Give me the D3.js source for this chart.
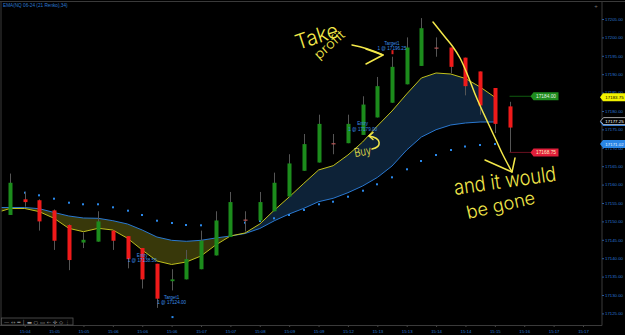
<!DOCTYPE html>
<html>
<head>
<meta charset="utf-8">
<script src="https://cdn.jsdelivr.net/npm/d3@7"></script>
<style>
html,body{margin:0;padding:0;background:#000;overflow:hidden;}
svg{display:block;}
</style>
</head>
<body>
<svg id="chart" width="625" height="335"></svg>
<script>
// ---------------- DATA ----------------
const chartTitle = "EMA(NQ 06-24 (21 Renko),34)";

// Renko bars (bar index 0..34)
const barOpen  = [17151.75,17156,17155.75,17153,17149,17144.25,17144.5,17147.5,17146,17142.75,17138.5,17133.75,17134.25,17137,17140.75,17145.75,17150.5,17150.25,17152.75,17156.75,17163.75,17166,17171.25,17171.25,17173.5,17178.25,17182.25,17187.25,17192.25,17197.25,17197.25,17194.5,17190.75,17186.25,17181.25];
const barHigh  = [17163,17158,17156,17153.25,17149.25,17147,17152.75,17147.5,17146,17142.75,17138.5,17137,17142.25,17147.5,17152.75,17158,17152.75,17158,17163.25,17168.25,17173.75,17179,17173.75,17179,17184,17189.25,17194.75,17200,17205.25,17200,17197.25,17194.5,17190.75,17186.25,17182.5];
const barLow   = [17151.75,17154,17147.5,17142.25,17136.75,17142.75,17144.5,17142.25,17137.25,17131.75,17126.5,17131.25,17134.25,17137,17140.75,17145.75,17147.25,17150.25,17152.75,17156.75,17163.75,17166,17168.25,17171.25,17173.5,17178.25,17182.25,17187.25,17192.25,17194.75,17190.25,17184.25,17179,17174,17168.75];
const barClose = [17160.5,17155.25,17150,17144.75,17139.5,17145,17150,17144.75,17139.75,17134.25,17129,17134.25,17139.75,17144.75,17150.25,17155.25,17150.5,17155.25,17160.5,17165.75,17171,17176.5,17171.25,17176.5,17181.75,17186.75,17192,17197.25,17202.5,17197.25,17192,17186.75,17181.5,17176.5,17175.5];

// Two EMA lines (bar index -1 .. 33)
const emaStartBar = -1;
const emaYellow = [17152.28,17153.51,17153.51,17152.64,17150.84,17148.12,17147.20,17148.12,17147.66,17145.41,17142.23,17139.24,17138.29,17138.97,17140.60,17143.59,17146.03,17146.85,17149.29,17153.10,17156.63,17160.35,17163.97,17165.14,17168.04,17171.58,17175.92,17180.00,17184.62,17188.97,17190.33,17190.05,17188.83,17186.52,17183.75];
const emaBlue   = [17153.78,17153.78,17153.78,17153.45,17152.42,17151.47,17150.92,17150.84,17150.19,17149.29,17147.66,17145.76,17144.86,17144.59,17144.86,17145.49,17146.03,17146.71,17148.07,17150.19,17152.01,17153.56,17155.35,17156.28,17157.80,17159.62,17161.93,17165.05,17169.40,17172.93,17174.92,17176.20,17176.74,17177.01,17177.01];

// Blue dot indicator (bar index 0..33)
const dotValues = [17157.91,17157.80,17157.09,17156.17,17155.08,17154.65,17154.65,17153.83,17152.91,17151.74,17150.19,17149.57,17149.02,17148.94,17149.48,17149.65,17149.65,17150.11,17150.84,17151.74,17153.10,17154.65,17155.35,17156.71,17158.34,17160.08,17161.98,17164.16,17166.41,17168.04,17169.40,17170.35,17170.76,17171.02];

// Axis
const priceTicks = d3.range(17125, 17205.01, 5);
const timeLabelBars = [1,3,5,7,9,11,13,15,17,19,21,23,25,27,29,31,33,35,37,39];
const timeLabels = ["15:04","15:05","15:05","15:06","15:06","15:06","15:07","15:07","15:08","15:09","15:09","15:12","15:13","15:13","15:14","15:14","15:15","15:16","15:17","15:17"];

// Executions
const execBars   = [9, 11, 24, 26];
const execPrices = [17138.50, 17124.00, 17179.00, 17196.25];
const execNames  = ["Entry", "Target1", "Entry", "Target1"];
const execSides  = ["sell", "buy", "buy", "sell"];
const execLabelPrices = [17138.9, 17127.5, 17174.6, 17196.5];

// Price markers
const lastPrice = 17177.25;
const nextBrickUp = 17184.00;
const nextBrickDown = 17168.75;

// ---------------- DRAW ----------------
const svg = d3.select("#chart");
const plotLeft = 1.5, plotRight = 602, plotTop = 2, plotBottom = 325.5;
const x = d3.scaleLinear().domain([0, 39]).range([10, 583]);
const y = d3.scaleLinear().domain([17125, 17205]).range([313.4, 19]);

const axisColor = "#2a78d2";
const fontAxis = "'Liberation Sans', Arial, sans-serif";

svg.append("rect").attr("width", 625).attr("height", 335).attr("fill", "#000");

const defs = svg.append("defs");
defs.append("clipPath").attr("id", "plotClip").append("rect")
  .attr("x", plotLeft).attr("y", plotTop).attr("width", plotRight - plotLeft).attr("height", plotBottom - plotTop);

const emaX = (d, i) => x(emaStartBar + i);
const aboveYellow = d3.area().x(emaX).y0(plotTop - 5).y1(d => y(d))(emaYellow);
const belowYellow = d3.area().x(emaX).y0(plotBottom + 5).y1(d => y(d))(emaYellow);
defs.append("clipPath").attr("id", "clipAbove").append("path").attr("d", aboveYellow);
defs.append("clipPath").attr("id", "clipBelow").append("path").attr("d", belowYellow);

const plot = svg.append("g").attr("clip-path", "url(#plotClip)");

// band fill
const band = d3.area().x(emaX).y0((d, i) => y(emaBlue[i])).y1(d => y(d))(emaYellow);
plot.append("g").attr("clip-path", "url(#clipAbove)")
  .append("path").attr("d", band).attr("fill", "#38380a");
plot.append("g").attr("clip-path", "url(#clipBelow)")
  .append("path").attr("d", band).attr("fill", "#0d2237");

// EMA lines
const lineGen = d3.line().x(emaX).y(d => y(d));
plot.append("path").attr("d", lineGen(emaBlue)).attr("fill", "none")
  .attr("stroke", "#2a78d0").attr("stroke-width", 1);
plot.append("path").attr("d", lineGen(emaYellow)).attr("fill", "none")
  .attr("stroke", "#c2c21c").attr("stroke-width", 1);

// dots
plot.append("g").selectAll("rect").data(dotValues).join("rect")
  .attr("x", (d, i) => Math.round(x(i)) - 1)
  .attr("y", d => y(d) - 1)
  .attr("width", 2).attr("height", 2)
  .attr("fill", "#2a88ea");

// candles
const bars = d3.range(barOpen.length);
const cg = plot.append("g");
cg.selectAll("line").data(bars).join("line")
  .attr("x1", i => Math.round(x(i)) + 0.5).attr("x2", i => Math.round(x(i)) + 0.5)
  .attr("y1", i => y(barHigh[i])).attr("y2", i => y(barLow[i]))
  .attr("stroke", "#555").attr("stroke-width", 1);
cg.selectAll("rect").data(bars).join("rect")
  .attr("x", i => Math.round(x(i)) - 1.5)
  .attr("width", 4)
  .attr("y", i => y(Math.max(barOpen[i], barClose[i])))
  .attr("height", i => Math.max(1.2, Math.abs(y(barOpen[i]) - y(barClose[i]))))
  .attr("fill", i => barClose[i] > barOpen[i] ? "#1c8c1c" : (barClose[i] < barOpen[i] ? "#f01a1a" : "#b85656"));

// executions
const eg = plot.append("g").attr("font-family", fontAxis).attr("font-size", 4.6).attr("fill", "#3a8ee6").attr("text-anchor", "middle");
execBars.forEach((b, k) => {
  const cx = x(b);
  const ly = y(execLabelPrices[k]);
  eg.append("text").attr("x", cx).attr("y", ly - 5.4).text(execNames[k]);
  eg.append("text").attr("x", cx).attr("y", ly).text("1 @ " + execPrices[k].toFixed(2));
  if (execNames[k] !== "Entry") {
    eg.append("rect")
      .attr("x", Math.round(cx) - 0.5).attr("y", y(execPrices[k]) - 1)
      .attr("width", 2).attr("height", execSides[k] === "sell" ? 4 : 2)
      .attr("fill", execSides[k] === "sell" ? "#e02020" : "#2a88ea");
  }
});

// next brick lines & tags
function tag(g, xl, yv, w, h, fill, stroke, tcol, label, fs) {
  const p = 3;
  g.append("path")
    .attr("d", `M${xl},${yv} L${xl + p},${yv - h / 2} L${xl + w},${yv - h / 2} L${xl + w},${yv + h / 2} L${xl + p},${yv + h / 2} Z`)
    .attr("fill", fill).attr("stroke", stroke || "none").attr("stroke-width", 0.8);
  g.append("text").attr("x", xl + p + (w - p) / 2).attr("y", yv).attr("dy", "0.36em")
    .attr("text-anchor", "middle").attr("font-family", fontAxis).attr("font-size", fs)
    .attr("fill", tcol).text(label);
}
const lastBar = barOpen.length - 1;
const tg = svg.append("g");
tg.append("line").attr("x1", x(lastBar)).attr("x2", 531).attr("y1", y(nextBrickUp)).attr("y2", y(nextBrickUp))
  .attr("stroke", "#0f5a0f").attr("stroke-width", 1);
tg.append("line").attr("x1", x(lastBar)).attr("x2", 531).attr("y1", y(nextBrickDown)).attr("y2", y(nextBrickDown))
  .attr("stroke", "#6a1020").attr("stroke-width", 1);
tag(tg, 530.5, y(nextBrickUp), 28, 8, "#1e8c1e", null, "#e6f2e6", nextBrickUp.toFixed(2), 4.8);
tag(tg, 530.5, y(nextBrickDown), 28, 8, "#e01e3a", null, "#ffeec0", nextBrickDown.toFixed(2), 4.8);

// frame
svg.append("line").attr("x1", 0).attr("x2", 625).attr("y1", 1.5).attr("y2", 1.5).attr("stroke", "#3a3a3a");
svg.append("line").attr("x1", 1).attr("x2", 1).attr("y1", 1.5).attr("y2", 325.5).attr("stroke", "#3a3a3a");
svg.append("line").attr("x1", plotRight).attr("x2", plotRight).attr("y1", 1.5).attr("y2", plotBottom).attr("stroke", "#3a3a3a");
svg.append("line").attr("x1", 0).attr("x2", plotRight).attr("y1", plotBottom).attr("y2", plotBottom).attr("stroke", "#3a3a3a");

// y axis
const gy = svg.append("g").attr("transform", `translate(${plotRight},0)`)
  .call(d3.axisRight(y).tickValues(priceTicks).tickFormat(d => d.toFixed(2)).tickSize(2).tickPadding(1));
gy.attr("font-family", fontAxis).attr("font-size", 4.3);
gy.select(".domain").remove();
gy.selectAll("line").attr("stroke", "#2a5a96");
gy.selectAll("text").attr("fill", axisColor);

// x axis
const gx = svg.append("g").attr("transform", `translate(0,${plotBottom})`)
  .call(d3.axisBottom(x).tickValues(timeLabelBars).tickFormat((d, i) => timeLabels[i]).tickSize(1.5).tickPadding(2.5));
gx.attr("font-family", fontAxis).attr("font-size", 4.3);
gx.select(".domain").remove();
gx.selectAll("line").attr("stroke", "#444");
gx.selectAll("text").attr("fill", axisColor);

// right axis tags
const ag = svg.append("g");
tag(ag, 600, y(emaYellow[emaYellow.length - 1]), 26, 8, "#f2f200", null, "#000", emaYellow[emaYellow.length - 1].toFixed(2), 4.4);
tag(ag, 600, y(emaBlue[emaBlue.length - 1]), 26, 8, "#2a7ad8", null, "#e8f2ff", emaBlue[emaBlue.length - 1].toFixed(2), 4.4);
tag(ag, 600.5, y(lastPrice), 25, 7, "#000", "#cfcfcf", "#ffffff", lastPrice.toFixed(2), 4.4);
tag(ag, 600, y(dotValues[dotValues.length - 1]), 26, 8, "#2a86e6", null, "#e8f2ff", dotValues[dotValues.length - 1].toFixed(2), 4.4);

// title
svg.append("text").attr("x", 3).attr("y", 7.2).attr("font-family", fontAxis).attr("font-size", 4.7)
  .attr("fill", axisColor).text(chartTitle);
// top-right small icon
svg.append("text").attr("x", 596).attr("y", 8).attr("font-family", fontAxis).attr("font-size", 6)
  .attr("text-anchor", "middle").attr("fill", "#777").text("+");

// toolbar bottom-left
const tb = svg.append("g");
tb.append("rect").attr("x", 1.5).attr("y", 318).attr("width", 71.5).attr("height", 7).attr("fill", "#050505").attr("stroke", "#555").attr("stroke-width", 0.8);
tb.append("text").attr("x", 4).attr("y", 323.6).attr("font-family", "'DejaVu Sans', sans-serif").attr("font-size", 4.6)
  .attr("fill", "#9a9a9a").attr("textLength", 66).attr("lengthAdjust", "spacingAndGlyphs")
  .text("— ↔ ═ │ ▬ ○ ▭ ← ✣ ◇ ⋮");

// ---------------- HAND ANNOTATIONS ----------------
const handColor = "#f3e84a";
const hand = svg.append("g").attr("fill", "none").attr("stroke", handColor).attr("stroke-width", 1.5)
  .attr("stroke-linecap", "round").attr("stroke-linejoin", "round");
const handFont = "Inter, 'Open Sans', Lato, sans-serif";
const ht = svg.append("g").attr("fill", handColor).attr("font-family", handFont).attr("font-weight", 300);

ht.append("text").attr("transform", "translate(298,50) rotate(-18)").attr("font-size", 21)
  .attr("textLength", 44).attr("lengthAdjust", "spacingAndGlyphs").text("Take");
ht.append("text").attr("transform", "translate(319,60) rotate(-42)").attr("font-size", 13)
  .attr("textLength", 36).attr("lengthAdjust", "spacingAndGlyphs").text("profit");
// take-profit arrow
hand.append("path").attr("d", "M352,45 Q368,48 383,55");
hand.append("path").attr("d", "M366,49 L383,55 L366,64");

// Buy
ht.append("text").attr("transform", "translate(355,157) rotate(-10)").attr("font-size", 12)
  .attr("textLength", 17).attr("lengthAdjust", "spacingAndGlyphs").text("Buy");
hand.append("path").attr("d", "M372,149 C382,147 382,138 369,136");
hand.append("path").attr("d", "M373,132.5 L369,136 L373,139.5");

// big sweep arrow
const sweep = [[433,22],[445,37],[453,47],[460,58],[468,76],[475,94],[482,110],[489,125],[496,140],[503,155],[512,172]];
hand.append("path").attr("d", d3.line().curve(d3.curveCatmullRom)(sweep));
hand.append("path").attr("d", "M485,160 L512,172 L515,158");

ht.append("text").attr("transform", "translate(455,195) rotate(-8)").attr("font-size", 21)
  .attr("textLength", 103).attr("lengthAdjust", "spacingAndGlyphs").text("and it would");
ht.append("text").attr("transform", "translate(468,219) rotate(-13)").attr("font-size", 18)
  .attr("textLength", 70).attr("lengthAdjust", "spacingAndGlyphs").text("be gone");
</script>
</body>
</html>
